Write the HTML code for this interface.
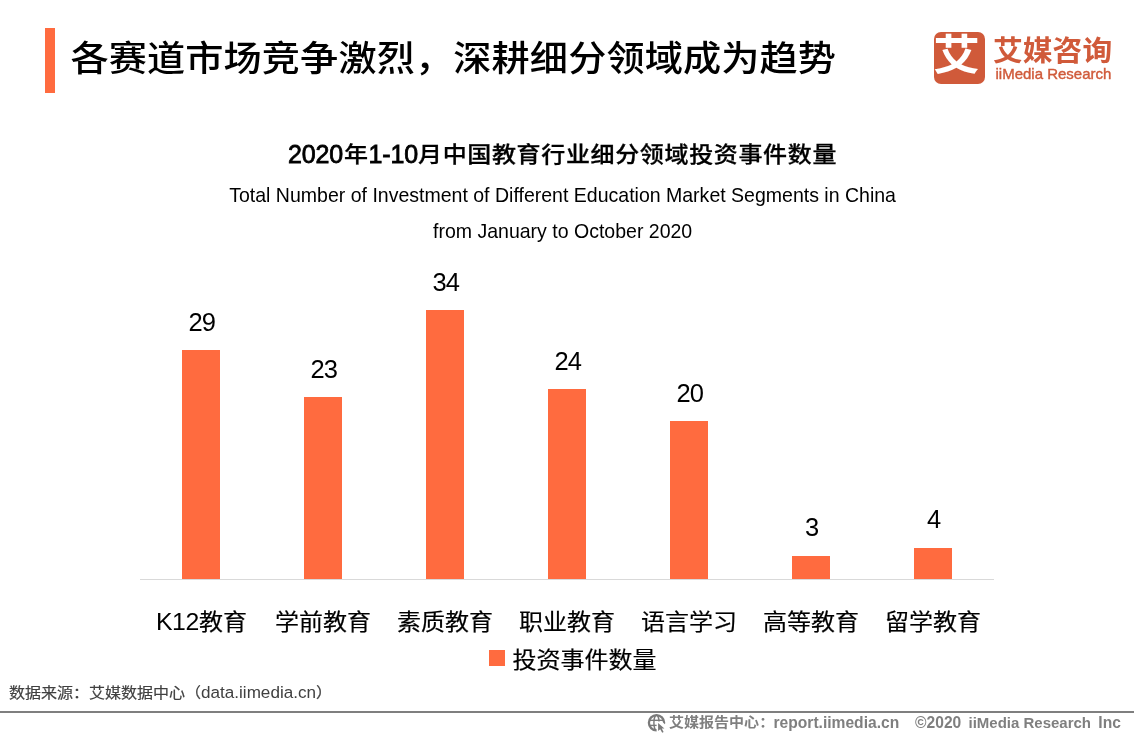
<!DOCTYPE html>
<html lang="zh-CN">
<head>
<meta charset="utf-8">
<title>各赛道市场竞争激烈，深耕细分领域成为趋势</title>
<style>
html,body{margin:0;padding:0;background:#fff;}
body{width:1134px;height:737px;position:relative;overflow:hidden;
  font-family:"Liberation Sans","Noto Sans CJK SC",sans-serif;color:#000;}
.abs{position:absolute;white-space:nowrap;line-height:1;}
/* CJK runs: slightly condensed vertically like the source rendering */
.c{display:inline-block;transform:scaleY(.925);transform-origin:50% 100%;-webkit-text-stroke:.2px currentColor;}
.accent{left:45px;top:28px;width:10px;height:65px;background:#FF6B3F;}
.title{left:70.4px;top:38.5px;font-size:38.2px;line-height:40px;height:40px;font-weight:500;letter-spacing:.1px;
  transform:scaleY(.925);transform-origin:0 50%;}
.logo-box{left:934px;top:32px;width:51px;height:52px;border-radius:7px;background:#D05A3A;overflow:hidden;}
.logo-box span{position:absolute;left:-3px;top:0;width:51px;height:52px;line-height:47px;text-align:center;
  color:#fff;font-weight:700;font-size:44px;transform:scale(1.06,.96);}
.logo-cn{left:993px;top:36.7px;font-size:29.8px;font-weight:bold;color:#D05A3A;line-height:30px;
  transform:scaleY(.94);transform-origin:0 50%;}
.logo-en{left:995.5px;top:65.8px;font-size:15px;color:#D05A3A;line-height:16px;-webkit-text-stroke:.4px #D05A3A;}
.ctitle{left:287.9px;top:138.3px;font-size:24.7px;font-weight:bold;line-height:28px;}
.ctitle .c{font-weight:500;font-size:24px;letter-spacing:.65px;-webkit-text-stroke:.3px #000;transform:scaleY(.89);}
.ctitle .l{font-weight:normal;font-size:25px;-webkit-text-stroke:.8px #000;letter-spacing:-.15px;position:relative;top:1.6px;}
.sub{left:-.4px;width:1126px;text-align:center;font-size:19.52px;line-height:22px;}
.sub1{top:184px;}
.sub2{top:220px;}
.axis{left:140px;top:579px;width:854px;height:1px;background:#D9D9D9;}
.bar{width:38px;background:#FF6B3F;}
.val{width:122px;text-align:center;font-size:25.5px;letter-spacing:-.9px;line-height:26px;margin-left:.7px;margin-top:-.45px;}
.cat{width:122px;text-align:center;font-size:24px;line-height:28px;top:607.6px;}
.cat .l{font-size:24.8px;letter-spacing:-.3px;position:relative;top:.4px;margin-left:1px;}
.legend-sq{left:489px;top:650px;width:16px;height:16px;background:#FF6B3F;}
.legend{left:512.5px;top:645.6px;font-size:24px;line-height:28px;}
.source{left:9px;top:683.2px;font-size:16px;line-height:20px;color:#404040;}
.source .l{font-size:17.1px;}
.fline{left:0;top:711px;width:1134px;height:2px;background:#7F7F7F;}
.foot{top:713px;font-size:15.6px;line-height:20px;color:#7F7F7F;font-weight:bold;}
.foot .c{font-size:15.05px;-webkit-text-stroke:0;transform:scaleY(.93);transform-origin:50% 96%;position:relative;top:-.9px;}
.foot .m{font-size:15px;}
.globe{left:645px;top:711px;width:24px;height:24px;}
</style>
</head>
<body>
<div class="abs accent"></div>
<div class="abs title">各赛道市场竞争激烈，深耕细分领域成为趋势</div>

<div class="abs logo-box"><span>艾</span></div>
<div class="abs logo-cn">艾媒咨询</div>
<div class="abs logo-en">iiMedia Research</div>

<div class="abs ctitle"><span class="l">2020</span><span class="c" style="margin-left:1px">年</span><span class="l">1-10</span><span class="c">月中国教育行业细分领域投资事件数量</span></div>
<div class="abs sub sub1">Total Number of Investment of Different Education Market Segments in China</div>
<div class="abs sub sub2">from January to October 2020</div>

<div class="abs axis"></div>
<div class="abs bar" style="left:182px;top:350px;height:229px"></div>
<div class="abs bar" style="left:304px;top:397px;height:182px"></div>
<div class="abs bar" style="left:426px;top:310px;height:269px"></div>
<div class="abs bar" style="left:548px;top:389px;height:190px"></div>
<div class="abs bar" style="left:670px;top:421px;height:158px"></div>
<div class="abs bar" style="left:792px;top:556px;height:23px"></div>
<div class="abs bar" style="left:914px;top:548px;height:31px"></div>

<div class="abs val" style="left:140px;top:309px">29</div>
<div class="abs val" style="left:262px;top:356px">23</div>
<div class="abs val" style="left:384px;top:269px">34</div>
<div class="abs val" style="left:506px;top:348px">24</div>
<div class="abs val" style="left:628px;top:380px">20</div>
<div class="abs val" style="left:750px;top:514px">3</div>
<div class="abs val" style="left:872px;top:506px">4</div>

<div class="abs cat" style="left:140px"><span class="l">K12</span><span class="c">教育</span></div>
<div class="abs cat" style="left:262px"><span class="c">学前教育</span></div>
<div class="abs cat" style="left:384px"><span class="c">素质教育</span></div>
<div class="abs cat" style="left:506px"><span class="c">职业教育</span></div>
<div class="abs cat" style="left:628px"><span class="c">语言学习</span></div>
<div class="abs cat" style="left:750px"><span class="c">高等教育</span></div>
<div class="abs cat" style="left:872px"><span class="c">留学教育</span></div>

<div class="abs legend-sq"></div>
<div class="abs legend"><span class="c">投资事件数量</span></div>

<div class="abs source"><span class="c">数据来源：艾媒数据中心（</span><span class="l">data.iimedia.cn</span><span class="c">）</span></div>
<div class="abs fline"></div>
<svg class="abs globe" viewBox="645 711 24 24" aria-hidden="true">
  <g fill="none" stroke="#7A7A7A">
    <circle cx="656.5" cy="722.8" r="7.6" stroke-width="2.3"/>
    <ellipse cx="656.5" cy="722.8" rx="2.6" ry="7.6" stroke-width="1.4"/>
    <line x1="649" y1="720.3" x2="664" y2="720.3" stroke-width="1.4"/>
    <line x1="649" y1="725.4" x2="664" y2="725.4" stroke-width="1.4"/>
  </g>
  <polygon points="656.6,721.6 656.6,733.5 668,733.5 668,727.2 662,721.6" fill="#fff"/>
  <polygon points="658.1,723 658.1,731 660.2,729.2 662.2,732.8 663.6,732 661.8,728.6 664.4,728.4" fill="#7A7A7A"/>
</svg>
<div class="abs foot" style="left:668.9px"><span class="c">艾媒报告中心：</span><span style="margin-left:-.7px">report.iimedia.cn</span></div>
<div class="abs foot" style="left:915.1px">©2020<span class="m" style="margin-left:7.2px">iiMedia Research</span><span style="margin-left:7.3px">Inc</span></div>
</body>
</html>
